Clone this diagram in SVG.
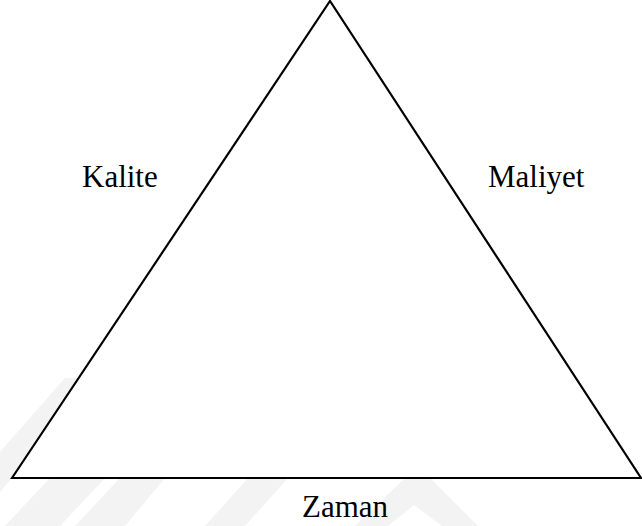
<svg xmlns="http://www.w3.org/2000/svg" width="642" height="526" viewBox="0 0 642 526">
  <style>
    .wm { fill: #f3f3f3; }
    .lbl { font-family: "Liberation Serif", "Times New Roman", serif; font-size: 31px; fill: #000; }
    .edge { fill: #fff; stroke: #000; stroke-width: 2.2; stroke-linejoin: miter; }
  </style>
  <rect width="642" height="526" fill="#fff"/>
  <g id="watermark">
    <polygon class="wm" points="0,452 65,378 95,378 0,492"/>
    <polygon class="wm" points="5,526 50,478 105,478 60,526"/>
    <polygon class="wm" points="75,526 120,478 165,478 125,526"/>
    <polygon class="wm" points="205,526 248,478 288,478 245,526"/>
    <path class="wm" fill-rule="evenodd" d="M355,526 L405,478 L430,478 L478,526 Z M388,526 L414,505 L442,526 Z"/>
  </g>
  <g id="connectors">
    <polygon id="triangle" class="edge" points="12,478 330,1 641,478"/>
  </g>
  <g id="kalite"><text class="lbl" x="82" y="187">Kalite</text></g>
  <g id="maliyet"><text class="lbl" x="488" y="187">Maliyet</text></g>
  <g id="zaman"><text class="lbl" x="302" y="517">Zaman</text></g>
</svg>
